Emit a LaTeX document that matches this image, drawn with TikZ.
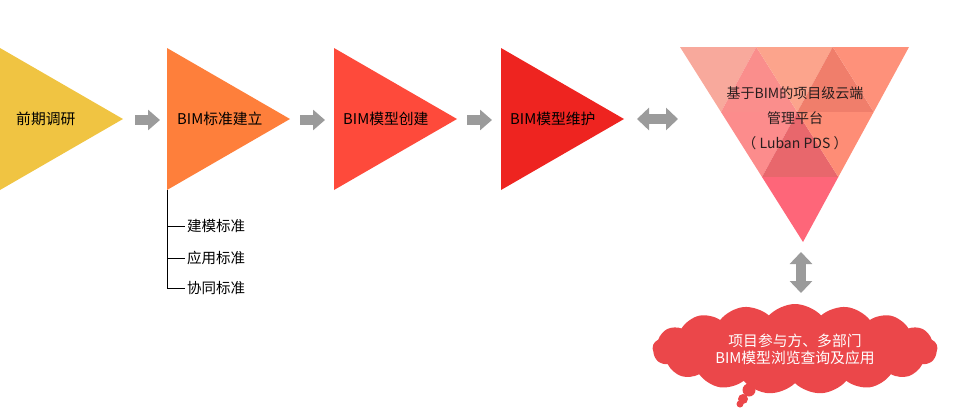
\documentclass[tikz,border=0pt]{standalone}
\usepackage{fontspec}
\setmainfont{Noto Sans CJK SC}
\usetikzlibrary{positioning, arrows.meta, shapes.symbols}

\definecolor{arrowgray}{HTML}{9B9B9B}
\definecolor{stageA}{HTML}{F0C442}
\definecolor{stageB}{HTML}{FE7F3B}
\definecolor{stageC}{HTML}{FE4A3B}
\definecolor{stageD}{HTML}{EE2420}
\definecolor{cloudred}{HTML}{EB474A}

\begin{document}
\begin{tikzpicture}
            [x=1pt, y=-1pt,
             stagelabel/.style={anchor=west, inner sep=0pt, font=\fontsize{14.8}{17}\selectfont},
             sublabel/.style={anchor=west, inner sep=2pt, font=\fontsize{14.5}{17}\selectfont},
             flow/.style={draw=arrowgray, line width=10pt, -{Triangle[length=12pt, width=20pt]}},
             twoway/.style={draw=arrowgray, line width=10pt,
               {Triangle[length=12pt, width=22pt]}-{Triangle[length=12pt, width=22pt]}}]
            \useasboundingbox (0,0) rectangle (966,410);

            % stages
            \fill[stageA] (0,48) -- (123,119) coordinate (tip1) -- (0,190) -- cycle;
            \fill[stageB] (167,48) coordinate (top2) -- (290,119) coordinate (tip2) -- (167,190) coordinate (foot2) -- cycle;
            \fill[stageC] (334,48) -- (457,119) coordinate (tip3) -- (334,190) -- cycle;
            \fill[stageD] (501,48) -- (624,119) coordinate (tip4) -- (501,190) -- cycle;
            \coordinate (in2) at (167,120);
            \coordinate (in3) at (334,120);
            \coordinate (in4) at (501,120);

            \node[stagelabel] (s1) at (16,119) {前期调研};
            \node[stagelabel] (s2) at (177,119) {BIM标准建立};
            \node[stagelabel] (s3) at (343,119) {BIM模型创建};
            \node[stagelabel] (s4) at (510,119) {BIM模型维护};

            \draw[flow] ([xshift=12pt]tip1 |- in2) -- ([xshift=-7pt]in2);
            \draw[flow] ([xshift=10pt]tip2 |- in3) -- ([xshift=-9pt]in3);
            \draw[flow] ([xshift=10pt]tip3 |- in4) -- ([xshift=-9pt]in4);

            % standards
            \node[sublabel] (std1) at (185,226) {建模标准};
            \node[sublabel] (std2) at (185,258) {应用标准};
            \node[sublabel] (std3) at (185,288) {协同标准};
            \draw[thin] (foot2) |- (std1.west);
            \draw[thin] (foot2) |- (std2.west);
            \draw[thin] (foot2) |- (std3.west);

            % platform
            \coordinate (p00) at (680,47);   \coordinate (p10) at (756.3,47);
            \coordinate (p20) at (832.7,47); \coordinate (p30) at (909,47);
            \coordinate (p01) at (721,112);  \coordinate (p11) at (797.3,112);
            \coordinate (p21) at (873.7,112);
            \coordinate (p02) at (762,177);  \coordinate (p12) at (838.3,177);
            \coordinate (p03) at (803,242);

            \fill[fill={rgb,255:red,248;green,169;blue,156}] (p00) -- (p10) -- (p01) -- cycle;
            \fill[fill={rgb,255:red,250;green,142;blue,140}] (p10) -- (p01) -- (p11) -- cycle;
            \fill[fill={rgb,255:red,252;green,164;blue,140}] (p10) -- (p20) -- (p11) -- cycle;
            \fill[fill={rgb,255:red,240;green,126;blue,107}] (p20) -- (p11) -- (p21) -- cycle;
            \fill[fill={rgb,255:red,254;green,145;blue,122}] (p20) -- (p30) -- (p21) -- cycle;
            \fill[fill={rgb,255:red,252;green,140;blue,140}] (p01) -- (p11) -- (p02) -- cycle;
            \fill[fill={rgb,255:red,232;green,103;blue,108}] (p11) -- (p02) -- (p12) -- cycle;
            \fill[fill={rgb,255:red,254;green,141;blue,118}] (p11) -- (p21) -- (p12) -- cycle;
            \fill[fill={rgb,255:red,254;green,102;blue,121}] (p02) -- (p12) -- (p03) -- cycle;

            \node[align=center, text={rgb,255:red,40;green,30;blue,30},
                  font=\fontsize{14}{25}\selectfont] (pds) at (795,118)
                 {基于BIM的项目级云端\\管理平台\\（ Luban PDS ）};

            \draw[twoway] ([xshift=13pt]tip4) -- ([xshift=54pt]tip4);

            % viewers
            \node[cloud, cloud puffs=17, cloud puff arc=95, aspect=3.2, fill=cloudred, draw=none,
                  minimum width=285pt, minimum height=90pt, inner sep=0pt,
                  text=white, align=center, font=\fontsize{14.8}{17}\selectfont]
                 (viewer) at (795,349) {项目参与方、多部门\\BIM模型浏览查询及应用};
            \fill[cloudred] (749,390) circle[radius=6.5pt];
            \fill[cloudred] (743,399) circle[radius=5pt];
            \fill[cloudred] (740,404) circle[radius=3.5pt];

            \draw[twoway] ([xshift=-2pt, yshift=-10pt]p03) -- ([xshift=-2pt, yshift=-51pt]p03);
        \end{tikzpicture}
\end{document}
